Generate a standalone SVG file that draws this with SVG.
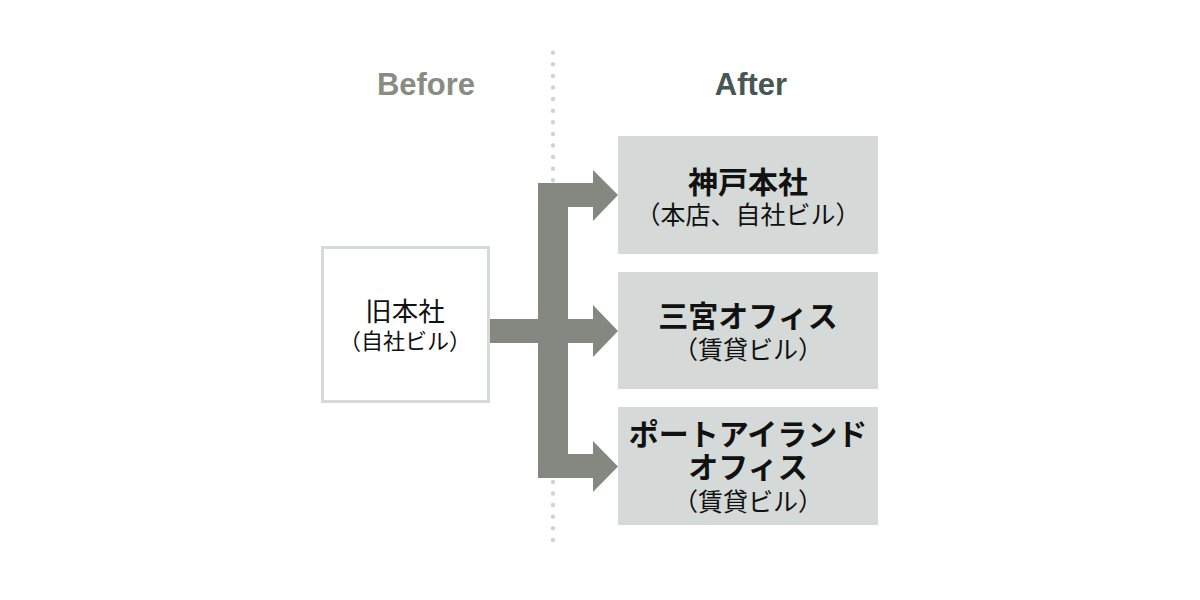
<svg xmlns="http://www.w3.org/2000/svg" width="1200" height="600" viewBox="0 0 1200 600">
<style>
.hdr{font-family:"Liberation Sans","Noto Sans",Arial,sans-serif;font-weight:700;font-size:31px;text-anchor:middle}
.jp{font-family:"Noto Sans CJK JP","Noto Sans",sans-serif;text-anchor:middle;fill:#111}
.t{font-weight:700;font-size:30px}
.s{font-weight:400;font-size:25px}
.box{fill:#d5dad8}
</style>
<rect width="1200" height="600" fill="#fff"/>
<g id="divider">
<line x1="553" y1="52.7" x2="553" y2="546" stroke="#d0d5d3" stroke-width="4.5" stroke-linecap="round" stroke-dasharray="0 11.6"/>
</g>
<text class="hdr" x="426" y="95" fill="#8a8c83">Before</text>
<text class="hdr" x="751" y="95" fill="#4a5652">After</text>
<g id="old-hq">
<rect x="322.5" y="247.5" width="166" height="154" fill="#fff" stroke="#d5dad8" stroke-width="3"/>
<text class="jp"><tspan x="405" y="321" font-size="26.5">旧本社</tspan><tspan x="405" y="349" font-size="22">（自社ビル）</tspan></text>
</g>
<g id="connectors">
<path d="M538,183 H593 V170 L618,195 L593,221 V207 H568 V319 H593 V305 L618,331 L593,357 V343 H568 V454 H593 V441 L618,466.5 L593,492 V478 H538 V343 H490 V319 H538 Z" fill="#858880"/>
</g>
<g id="kobe-hq">
<rect class="box" x="618" y="136" width="260" height="118"/>
<text class="jp"><tspan class="t" x="748" y="193">神戸本社</tspan><tspan class="s" x="748" y="224">（本店、自社ビル）</tspan></text>
</g>
<g id="sannomiya">
<rect class="box" x="618" y="272" width="260" height="117"/>
<text class="jp"><tspan class="t" x="748" y="327">三宮オフィス</tspan><tspan class="s" x="748" y="359">（賃貸ビル）</tspan></text>
</g>
<g id="port-island">
<rect class="box" x="618" y="407" width="260" height="118"/>
<text class="jp"><tspan class="t" x="748" y="445">ポートアイランド</tspan><tspan class="t" x="748" y="478">オフィス</tspan><tspan class="s" x="748" y="511">（賃貸ビル）</tspan></text>
</g>
</svg>
